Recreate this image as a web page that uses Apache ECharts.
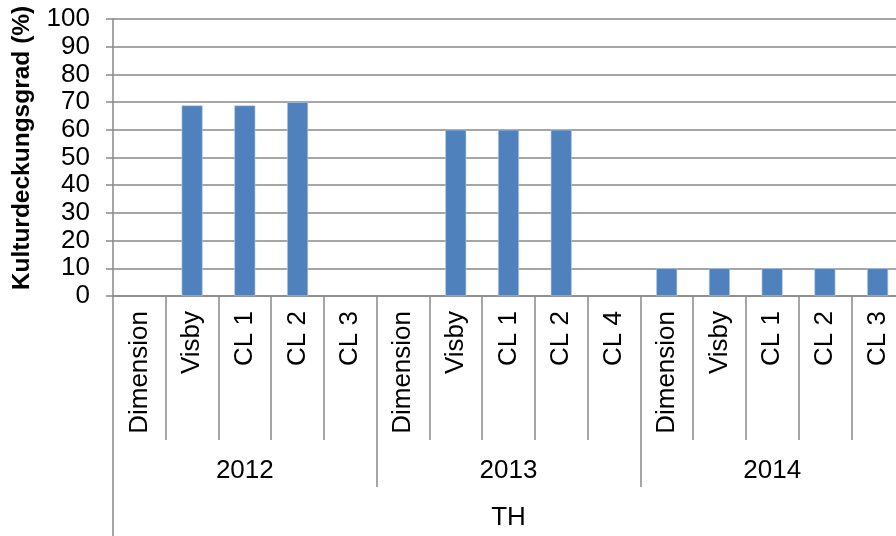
<!DOCTYPE html>
<html>
<head>
<meta charset="utf-8">
<script src="https://cdn.jsdelivr.net/npm/echarts@6/dist/echarts.min.js"></script>
<style>
  html, body { margin: 0; padding: 0; background: #fff; }
  #chart { width: 896px; height: 536px; }
</style>
</head>
<body>
<div id="chart"></div>
<script>
// Crop cover per site, grouped by year, for the TH trial
const categories = ['Dimension', 'Visby', 'CL 1', 'CL 2', 'CL 3',
                    'Dimension', 'Visby', 'CL 1', 'CL 2', 'CL 4',
                    'Dimension', 'Visby', 'CL 1', 'CL 2', 'CL 3'];
const coverValues = [null, 68.8, 68.8, 70, null,
                     null, 60, 60, 60, null,
                     10, 10, 10, 10, 10];
const years = ['2012', '2013', '2014'];
const groupName = ['TH'];
const yTitle = 'Kulturdeckungsgrad (%)';

const FONT = 'Liberation Sans, Arial, sans-serif';
const GRAY = '#898989';
const FS = 26;

const chart = echarts.init(document.getElementById('chart'), null, { renderer: 'canvas' });

const baseAxis = {
  type: 'category',
  position: 'bottom',
  gridIndex: 0,
  axisLine: { show: false },
  splitLine: { show: false },
  axisLabel: { color: '#000', fontFamily: FONT, fontSize: FS, interval: 0 },
  axisTick: { show: true, inside: false, interval: 0, alignWithLabel: false,
              lineStyle: { color: GRAY, width: 1.5 } }
};

chart.setOption({
  animation: false,
  backgroundColor: '#fff',
  grid: { left: 113, top: 19, width: 791, height: 277, outerBoundsMode: 'none', containLabel: false },
  graphic: [{
    type: 'text',
    x: 22, y: 148,
    rotation: Math.PI / 2,
    style: {
      text: yTitle,
      font: 'bold 24.5px ' + FONT,
      fill: '#000',
      align: 'center',
      verticalAlign: 'middle'
    }
  }],
  xAxis: [
    Object.assign({}, baseAxis, {
      data: categories,
      axisLine: { show: true, lineStyle: { color: GRAY, width: 1.5 } },
      axisTick: Object.assign({}, baseAxis.axisTick, { length: 144 }),
      axisLabel: Object.assign({}, baseAxis.axisLabel, { rotate: 90, margin: 15 })
    }),
    Object.assign({}, baseAxis, {
      data: years,
      axisTick: Object.assign({}, baseAxis.axisTick, { length: 191 }),
      axisLabel: Object.assign({}, baseAxis.axisLabel, { margin: 162 })
    }),
    Object.assign({}, baseAxis, {
      data: groupName,
      axisTick: Object.assign({}, baseAxis.axisTick, { length: 240 }),
      axisLabel: Object.assign({}, baseAxis.axisLabel, { margin: 209 })
    })
  ],
  yAxis: {
    type: 'value',
    min: 0, max: 100, interval: 10,
    axisLine: { show: true, lineStyle: { color: GRAY, width: 1.5 } },
    axisTick: { show: true, length: 7, lineStyle: { color: GRAY, width: 1.5 } },
    axisLabel: { color: '#000', fontFamily: FONT, fontSize: FS, margin: 23 },
    splitLine: { show: true, lineStyle: { color: GRAY, width: 1.5 } }
  },
  series: [{
    type: 'bar',
    xAxisIndex: 0,
    data: coverValues,
    barWidth: 21,
    itemStyle: { color: '#4f81bd', borderColor: '#b9cde5', borderWidth: 0.6 }
  }]
});
</script>
</body>
</html>
